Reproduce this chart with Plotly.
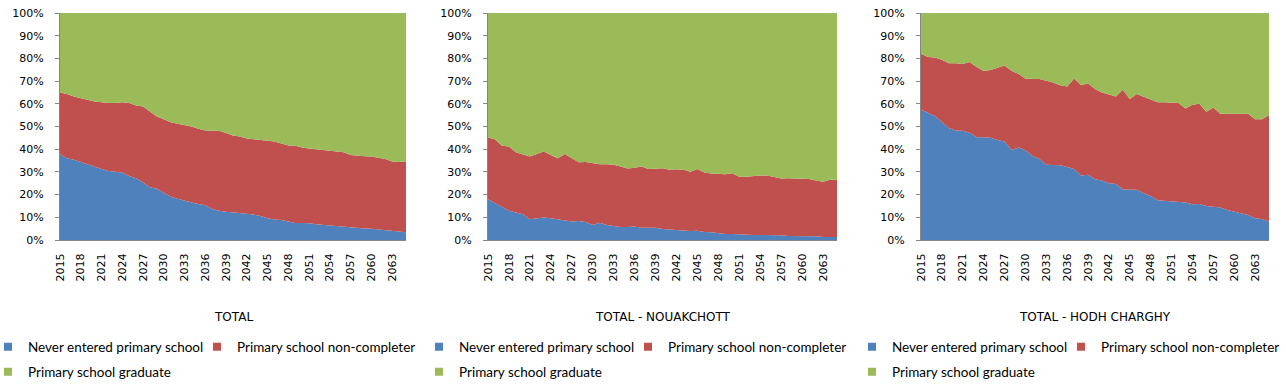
import plotly.graph_objects as go

# ---------------- data ----------------
years = list(range(2015, 2066))
tick_years = list(range(2015, 2064, 3))
y_ticks = list(range(0, 101, 10))
y_tick_labels = [f"{v}%" for v in y_ticks]

series_names = ["Never entered primary school", "Primary school non-completer", "Primary school graduate"]
panel_titles = ["TOTAL", "TOTAL - NOUAKCHOTT", "TOTAL - HODH CHARGHY"]

total_never = [37.9, 36, 35.3, 34.3, 33, 32, 31.3, 30.4, 29.9, 29.7, 28.2, 27.2, 25.3, 23.2, 22.6, 20.9, 19.1,
               18.2, 17.2, 16.5, 15.9, 15.3, 13.7, 12.9, 12.5, 12.2, 12, 11.8, 11.2, 10.6, 9.6, 9, 8.8, 8.1, 7.5,
               7.5, 7.4, 6.9, 6.6, 6.5, 6.2, 5.9, 5.4, 5.3, 5.1, 5, 4.7, 4.4, 4.1, 3.7, 3.4]
total_noncompleter = [27.1, 28.3, 27.9, 28.1, 28.5, 29, 29.4, 29.9, 30.4, 31, 32.1, 32.1, 33.5, 33.4, 31.8, 32.3,
                      32.8, 33, 33.5, 33.5, 33.1, 32.9, 34.4, 35.2, 34.6, 33.8, 33.6, 32.9, 33.2, 33.5, 34.2, 34.4,
                      33.7, 33.5, 34, 33.2, 32.9, 33.1, 33, 32.8, 32.8, 32.8, 32.1, 31.8, 31.8, 31.8, 31.6, 31.3,
                      30.5, 30.7, 31.2]
total_graduate = [35, 35.7, 36.8, 37.6, 38.5, 39, 39.3, 39.7, 39.7, 39.3, 39.7, 40.7, 41.2, 43.4, 45.6, 46.8, 48.1,
                  48.8, 49.3, 50, 51, 51.8, 51.9, 51.9, 52.9, 54, 54.4, 55.3, 55.6, 55.9, 56.2, 56.6, 57.5, 58.4,
                  58.5, 59.3, 59.7, 60, 60.4, 60.7, 61, 61.3, 62.5, 62.9, 63.1, 63.2, 63.7, 64.3, 65.4, 65.6, 65.4]

nkc_never = [17.9, 16.2, 14.4, 12.9, 12.1, 11.3, 9.1, 9.4, 9.9, 9.6, 9.1, 8.8, 8.1, 8.4, 7.9, 6.6, 7.6, 6.6, 6.2,
             5.7, 5.7, 5.9, 5.4, 5.3, 5.4, 4.9, 4.7, 4.3, 4.1, 4, 4.1, 3.5, 3.4, 2.9, 2.6, 2.6, 2.4, 2.2, 2.2, 2.2,
             2.2, 2.2, 2.1, 1.8, 1.8, 1.8, 1.6, 1.6, 1.3, 1.3, 1.3]
nkc_noncompleter = [27.2, 28.2, 27.1, 28.3, 26.6, 26.5, 27.7, 28.5, 29.1, 27.9, 26.9, 29.1, 27.9, 25.9, 26.5, 27.4,
                    25.8, 26.8, 26.9, 26.7, 25.8, 25.9, 27, 26, 26.1, 26.7, 26.3, 26.9, 26.8, 26.1, 27.2, 26.2,
                    25.9, 26.4, 26.4, 26.8, 25.5, 25.7, 26, 26.2, 26.2, 25.7, 25, 25.4, 25.4, 25.3, 25.3, 24.6,
                    24.4, 25.2, 25.2]
nkc_graduate = [54.9, 55.6, 58.5, 58.8, 61.3, 62.2, 63.2, 62.1, 61, 62.5, 64, 62.1, 64, 65.7, 65.6, 66, 66.6, 66.6,
                66.9, 67.6, 68.5, 68.2, 67.6, 68.7, 68.5, 68.4, 69, 68.8, 69.1, 69.9, 68.7, 70.3, 70.7, 70.7, 71,
                70.6, 72.1, 72.1, 71.8, 71.6, 71.6, 72.1, 72.9, 72.8, 72.8, 72.9, 73.1, 73.8, 74.3, 73.5, 73.5]

hc_never = [57.4, 56, 54.6, 52, 49.3, 48.2, 48.1, 47.3, 45.3, 45.3, 45, 44, 43.4, 39.7, 40.7, 39.5, 37, 35.8, 33.2,
            33, 32.9, 32.2, 31.3, 28.4, 28.7, 26.8, 26.2, 25, 24.7, 22.2, 22.1, 22.1, 20.6, 19.4, 17.5, 17.3, 17.1,
            16.9, 16.5, 15.7, 15.9, 15, 14.7, 14.3, 13.2, 12.5, 11.8, 11, 9.6, 9.3, 8.1]
hc_noncompleter = [24.7, 24.6, 25.8, 27.4, 28.6, 29.7, 29.4, 31.1, 30.9, 29.1, 29.9, 32, 33.5, 34.9, 32.5, 31.5,
                   33.9, 35.1, 36.9, 36.4, 35.3, 35.4, 39.9, 39.8, 40.4, 39.7, 38.8, 39, 38.5, 44, 40, 42.2, 42.6,
                   42.4, 43.2, 43.4, 43.5, 43.5, 41.4, 43.9, 44.1, 41.5, 43.7, 41.3, 42.4, 43.2, 43.8, 44.6, 43.6,
                   43.9, 47]
hc_graduate = [17.9, 19.4, 19.6, 20.6, 22.1, 22.1, 22.5, 21.6, 23.8, 25.6, 25.1, 24, 23.1, 25.4, 26.8, 29, 29.1,
               29.1, 29.9, 30.6, 31.8, 32.4, 28.8, 31.8, 30.9, 33.5, 35, 36, 36.8, 33.8, 37.9, 35.7, 36.8, 38.2,
               39.3, 39.3, 39.4, 39.6, 42.1, 40.4, 40, 43.5, 41.6, 44.4, 44.4, 44.3, 44.4, 44.4, 46.8, 46.8, 44.9]

panels = [
    [total_never, total_noncompleter, total_graduate],
    [nkc_never, nkc_noncompleter, nkc_graduate],
    [hc_never, hc_noncompleter, hc_graduate],
]

# ---------------- styling ----------------
W, H = 1286, 390
colors = ["#4F81BD", "#C0504D", "#9BBB59"]
axis_grey = "#868686"
tick_font = dict(family="DejaVu Sans", size=11, color="#000000")
legend_font = dict(family="Lato", size=13.5, color="#000000")

plot_px = [(60, 406), (488, 837), (921, 1269)]
y_top, y_bot = 13, 240
ydom = [1 - y_bot / H, 1 - y_top / H]
# legend text start (px) per panel: [row1 item1, row1 item2, row2 item1]
legend_text_px = [(27, 236, 27), (458, 667, 458), (891, 1100, 891)]
row_y = [347, 372]
title_y = 317

fig = go.Figure()
layout = dict(
    width=W, height=H,
    margin=dict(l=0, r=0, t=0, b=0, autoexpand=False),
    paper_bgcolor="white", plot_bgcolor="white",
    showlegend=True,
)

for p, (vals, (x0, x1)) in enumerate(zip(panels, plot_px)):
    n = p + 1
    xa = "x" if n == 1 else f"x{n}"
    ya = "y" if n == 1 else f"y{n}"
    for s, (name, v, c) in enumerate(zip(series_names, vals, colors)):
        fig.add_trace(go.Scatter(
            x=years, y=v, name=name, mode="lines",
            stackgroup=f"g{n}", line=dict(width=0, color=c), fillcolor=c,
            xaxis=xa, yaxis=ya, showlegend=False,
        ))
    # legend entries (square markers)
    lt = legend_text_px[p]
    for s, (name, c) in enumerate(zip(series_names, colors)):
        leg_idx = p * 3 + s + 1
        leg_key = "legend" if leg_idx == 1 else f"legend{leg_idx}"
        fig.add_trace(go.Scatter(
            x=[None], y=[None], name=name, mode="markers",
            marker=dict(symbol="square", size=8, color=c),
            xaxis=xa, yaxis=ya, showlegend=True,
            legend=leg_key,
        ))
        item_start = lt[s] - 40 + 1
        ry = row_y[0] if s < 2 else row_y[1]
        layout[leg_key] = dict(
            x=item_start / W, y=1 - ry / H, xanchor="left", yanchor="middle",
            orientation="h", font=legend_font, bgcolor="rgba(0,0,0,0)",
            borderwidth=0, itemclick=False, itemdoubleclick=False,
        )

    xkey = "xaxis" if n == 1 else f"xaxis{n}"
    ykey = "yaxis" if n == 1 else f"yaxis{n}"
    layout[xkey] = dict(
        domain=[x0 / W, x1 / W], anchor=ya, range=[2015, 2065],
        tickmode="array", tickvals=tick_years, ticktext=[str(t) for t in tick_years],
        tickangle=-90, tickfont=tick_font, ticks="", ticklabelstandoff=8,
        showline=True, linecolor=axis_grey, linewidth=1, showgrid=False, zeroline=False,
        fixedrange=True,
    )
    layout[ykey] = dict(
        domain=ydom, anchor=xa, range=[0, 100],
        tickmode="array", tickvals=y_ticks, ticktext=y_tick_labels,
        tickfont=tick_font, ticks="outside", ticklen=4, tickcolor=axis_grey,
        ticklabelstandoff=9,
        showline=True, linecolor=axis_grey, linewidth=1, showgrid=False, zeroline=False,
        fixedrange=True,
    )
    # right-hand tick marks
    rkey = f"yaxis{n + 3}"
    layout[rkey] = dict(
        overlaying=ya, side="right", anchor=xa, range=[0, 100],
        tickmode="array", tickvals=y_ticks, showticklabels=False,
        ticks="outside", ticklen=4, tickcolor=axis_grey,
        showline=False, showgrid=False, zeroline=False, fixedrange=True,
    )
    fig.add_annotation(
        text=panel_titles[p], xref="paper", yref="paper",
        x=(x0 + x1) / 2 / W, y=1 - title_y / H, xanchor="center", yanchor="middle",
        showarrow=False, font=dict(family="DejaVu Sans", size=12, color="#000000"),
    )

fig.update_layout(**layout)
fig.write_html(
    "out.html",
    config={"displayModeBar": False},
    post_script="document.body.style.margin='0';document.body.style.overflow='hidden';",
)
